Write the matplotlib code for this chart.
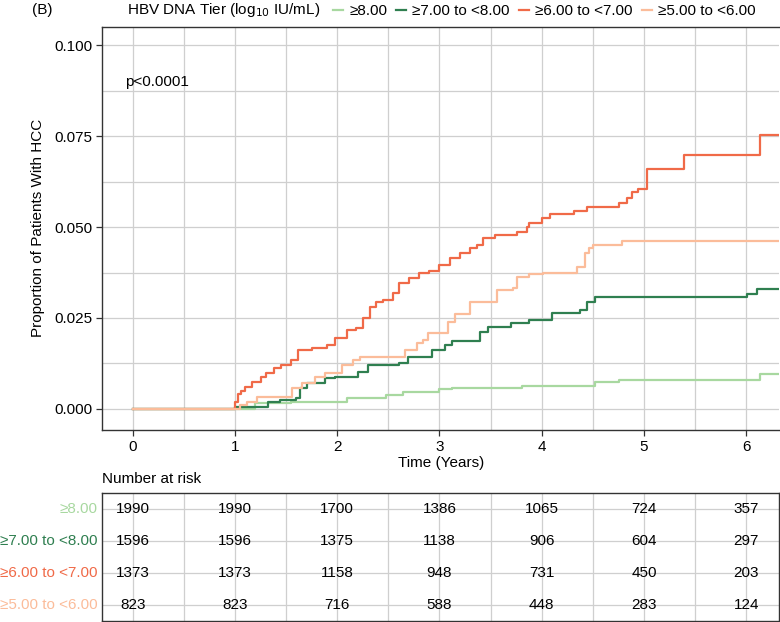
import matplotlib
matplotlib.use("Agg")
import matplotlib.pyplot as plt
from matplotlib.ticker import MultipleLocator, FixedLocator

plt.rcParams['font.family'] = ['Liberation Sans', 'DejaVu Sans']

# ---------------- data ----------------
groups = ["≥8.00", "≥7.00 to <8.00", "≥6.00 to <7.00", "≥5.00 to <6.00"]
colors = ["#a8d8a0", "#2f7f50", "#f06a48", "#fbbc9a"]

t_8 = [0, 1.20, 1.55, 2.10, 2.48, 2.64, 3.00, 3.12, 3.81, 4.52, 4.76, 6.13]
p_8 = [0, 0.0015, 0.0020, 0.0030, 0.0038, 0.0047, 0.0055, 0.0058, 0.0063, 0.0074, 0.0080, 0.0096]

t_7 = [0, 1.00, 1.32, 1.44, 1.60, 1.64, 1.70, 1.88, 1.98, 2.20, 2.30, 2.60, 2.69, 2.93,
       3.05, 3.12, 3.40, 3.47, 3.70, 3.88, 4.10, 4.37, 4.44, 4.52, 6.01, 6.10]
p_7 = [0, 0.0006, 0.0020, 0.0025, 0.0030, 0.0058, 0.0070, 0.0085, 0.0088, 0.0102, 0.0120, 0.0126, 0.0143, 0.0162,
       0.0176, 0.0187, 0.0212, 0.0225, 0.0236, 0.0245, 0.0264, 0.0272, 0.0294, 0.0308, 0.0316, 0.0330]

t_6 = [0, 1.00, 1.03, 1.06, 1.10, 1.17, 1.25, 1.30, 1.38, 1.45, 1.55, 1.62, 1.75, 1.90, 1.98,
       2.10, 2.18, 2.25, 2.32, 2.38, 2.45, 2.55, 2.60, 2.70, 2.80, 2.90, 3.00, 3.10, 3.20, 3.30,
       3.37, 3.43, 3.54, 3.76, 3.86, 3.88, 4.00, 4.08, 4.32, 4.44, 4.76, 4.83, 4.88, 4.94, 5.03,
       5.39, 6.13]
p_6 = [0, 0.0020, 0.0040, 0.0050, 0.0060, 0.0075, 0.0088, 0.0100, 0.0113, 0.0120, 0.0135, 0.0162, 0.0168, 0.0175, 0.0195,
       0.0217, 0.0222, 0.0250, 0.0280, 0.0294, 0.0300, 0.0320, 0.0346, 0.0360, 0.0374, 0.0380, 0.0396, 0.0415, 0.0430, 0.0442,
       0.0450, 0.0470, 0.0478, 0.0486, 0.0500, 0.0510, 0.0525, 0.0536, 0.0544, 0.0555, 0.0566, 0.0580, 0.0596, 0.0604, 0.0660,
       0.0698, 0.0753]

t_5 = [0, 1.05, 1.12, 1.22, 1.56, 1.66, 1.78, 1.88, 2.05, 2.15, 2.22, 2.66, 2.78, 2.84, 2.89,
       3.08, 3.15, 3.30, 3.56, 3.72, 3.76, 3.88, 4.01, 4.34, 4.42, 4.46, 4.50, 4.78]
p_5 = [0, 0.0010, 0.0020, 0.0033, 0.0058, 0.0070, 0.0088, 0.0099, 0.0120, 0.0135, 0.0143, 0.0162, 0.0180, 0.0190, 0.0210,
       0.0240, 0.0260, 0.0294, 0.0327, 0.0332, 0.0363, 0.0371, 0.0374, 0.0390, 0.0429, 0.0442, 0.0450, 0.0462]

risk_times = [0, 1, 2, 3, 4, 5, 6]
risk_8 = [1990, 1990, 1700, 1386, 1065, 724, 357]
risk_7 = [1596, 1596, 1375, 1138, 906, 604, 297]
risk_6 = [1373, 1373, 1158, 948, 731, 450, 203]
risk_5 = [823, 823, 716, 588, 448, 283, 124]

x_max = 6.32
curves_t = [t_8, t_7, t_6, t_5]
curves_p = [p_8, p_7, p_6, p_5]
risks = [risk_8, risk_7, risk_6, risk_5]

# ---------------- figure ----------------
W, H = 780, 622
fig = plt.figure(figsize=(W / 100, H / 100), dpi=100)

def fx(px):
    return px / W

def fy(py):
    return 1 - py / H

FS = 11
grid_c = "#cfcfcf"
spine_c = "#333333"

ax = fig.add_axes([fx(102), fy(430), fx(779) - fx(102), fy(27) - fy(430)])
handles = []
for tt, pp, c, g in zip(curves_t, curves_p, colors, groups):
    xs = list(tt) + [x_max]
    ys = list(pp) + [pp[-1]]
    ln, = ax.step(xs, ys, where='post', color=c, lw=1.6, label=g, zorder=3)
    handles.append(ln)

ax.set_xlim(-0.3, x_max)
ax.set_ylim(-0.0058, 0.105)
ax.xaxis.set_major_locator(FixedLocator(range(0, 7)))
ax.xaxis.set_minor_locator(MultipleLocator(0.5))
ax.yaxis.set_major_locator(FixedLocator([0, 0.025, 0.05, 0.075, 0.1]))
ax.yaxis.set_minor_locator(MultipleLocator(0.0125))
ax.set_yticklabels(["0.000", "0.025", "0.050", "0.075", "0.100"])
ax.grid(True, which='both', color=grid_c, lw=0.9, zorder=0)
ax.set_axisbelow(True)
ax.tick_params(which='minor', length=0)
ax.tick_params(which='major', length=4, width=0.9, color=spine_c, labelsize=FS, pad=3)
for s in ["left", "bottom", "top"]:
    ax.spines[s].set_color(spine_c)
    ax.spines[s].set_linewidth(1.0)
ax.spines["right"].set_visible(False)

ax.text(-0.07, 0.0898, "p<0.0001", fontsize=FS, ha='left', va='center')

fig.text(fx(441), fy(463), "Time (Years)", fontsize=FS, ha='center', va='center')
fig.text(fx(38), fy(228), "Proportion of Patients With HCC", fontsize=FS,
         rotation=90, ha='center', va='center')

# header / legend
fig.text(fx(32), fy(10), "(B)", fontsize=FS, ha='left', va='center')
fig.text(fx(127), fy(10), r"HBV DNA Tier (log$_{10}$ IU/mL)", fontsize=FS, ha='left', va='center')
leg = fig.legend(handles=handles, labels=groups, loc='center left',
                 bbox_to_anchor=(fx(333), fy(11)), ncol=4, frameon=False,
                 fontsize=FS, handlelength=0.65, handletextpad=0.4,
                 columnspacing=0.6, borderpad=0, borderaxespad=0)

# ---------------- risk table ----------------
tax = fig.add_axes([fx(102), fy(621), fx(779) - fx(102), fy(493) - fy(621)])
tax.set_xlim(-0.3, x_max)
tax.set_ylim(len(groups), 0)
tax.set_xticks([x * 0.5 for x in range(0, 13)])
tax.set_yticks([i + 0.5 for i in range(len(groups))])
tax.tick_params(length=0, labelbottom=False, labelleft=False)
tax.grid(True, color=grid_c, lw=0.9, zorder=0)
tax.set_axisbelow(True)
for s in tax.spines.values():
    s.set_color(spine_c)
    s.set_linewidth(1.0)
for i, (r, c, g) in enumerate(zip(risks, colors, groups)):
    for t, v in zip(risk_times, r):
        tax.text(t, i + 0.5, str(v), fontsize=FS, ha='center', va='center', zorder=3)
    tax.text(-0.006, i + 0.5, g, color=c, fontsize=FS, ha='right', va='center',
             transform=tax.get_yaxis_transform())
fig.text(fx(102), fy(479), "Number at risk", fontsize=FS, ha='left', va='center')

fig.savefig("out.png", dpi=100)
